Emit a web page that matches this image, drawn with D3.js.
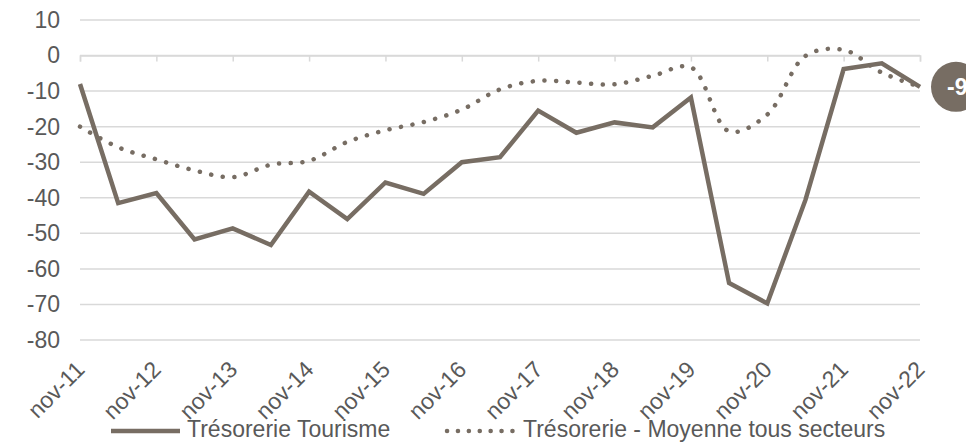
<!DOCTYPE html>
<html>
<head>
<meta charset="utf-8">
<script src="https://cdn.jsdelivr.net/npm/d3@7"></script>
<style>
	body { margin: 0; background: #fff; }
	svg { display: block; font-family: 'Liberation Sans', Arial, sans-serif; }
</style>
</head>
<body>
<div id="chart"></div>
<script>
// half-yearly periods, nov-11 .. nov-22
var periods = [ '2011-11', '2012-05', '2012-11', '2013-05', '2013-11', '2014-05', '2014-11', '2015-05', '2015-11',
	'2016-05', '2016-11', '2017-05', '2017-11', '2018-05', '2018-11', '2019-05', '2019-11', '2020-05', '2020-11',
	'2021-05', '2021-11', '2022-05', '2022-11' ];

var tickLabels = [ 'nov-11', 'nov-12', 'nov-13', 'nov-14', 'nov-15', 'nov-16', 'nov-17', 'nov-18', 'nov-19', 'nov-20',
	'nov-21', 'nov-22' ];

var tourisme = [ -8, -41.5, -38.7, -51.7, -48.6, -53.3, -38.3, -46, -35.7, -38.9, -30, -28.6, -15.5, -21.7, -18.8,
	-20.2, -11.8, -64, -69.7, -40.6, -3.8, -2.2, -8.8 ];

var moyenne = [ -20, -25.8, -29.2, -32.3, -34.2, -30.7, -29.6, -24.3, -21, -18.7, -15.2, -9.5, -7.1, -7.6, -8.1, -5.7,
	-3.3, -21.3, -16.6, -0.1, 1.6, -4.8, -8.8 ];

var yTicks = [ 10, 0, -10, -20, -30, -40, -50, -60, -70, -80 ];

var seriesNames = [ 'Trésorerie Tourisme', 'Trésorerie - Moyenne tous secteurs' ];

var w = 966,
	h = 442;
var margin = { top: 20, right: 46, bottom: 102, left: 80 },
	width = w - margin.left - margin.right,
	height = h - margin.top - margin.bottom;

var brown = '#776d63',
	grid = '#d9d9d9',
	textCol = '#595959',
	fontSize = '23px';

var svg = d3.select('#chart').append('svg').attr('width', w).attr('height', h);
var g = svg.append('g').attr('transform', 'translate(' + margin.left + ',' + margin.top + ')');

var xScale = d3.scalePoint().domain(periods).range([ 0, width ]);
var yScale = d3.scaleLinear().domain([ 10, -80 ]).range([ 0, height ]);

// gridlines
g
	.selectAll('.grid')
	.data(yTicks)
	.enter()
	.append('line')
	.attr('class', 'grid')
	.attr('x1', 0)
	.attr('x2', width)
	.attr('y1', function(d) {
		return yScale(d);
	})
	.attr('y2', function(d) {
		return yScale(d);
	})
	.attr('stroke', grid)
	.attr('stroke-width', 1.5);

// y axis labels (plain hyphen minus like the original)
var yAxis = d3
	.axisLeft(yScale)
	.tickValues(yTicks)
	.tickSize(0)
	.tickPadding(20)
	.tickFormat(function(d) {
		return String(d);
	});
g.append('g').call(yAxis).call(function(a) {
	a.select('.domain').remove();
	a.selectAll('text').attr('fill', textCol).style('font-size', fontSize);
});

// x axis sitting on the zero line, ticks pointing down
var novPeriods = periods.filter(function(d, i) {
	return i % 2 == 0;
});
var xAxis = d3
	.axisBottom(xScale)
	.tickValues(novPeriods)
	.tickSize(6)
	.tickFormat(function(d, i) {
		return tickLabels[i];
	});
var xg = g.append('g').attr('transform', 'translate(0,' + yScale(0) + ')').call(xAxis);
xg.selectAll('.domain').attr('stroke', grid).attr('stroke-width', 1.5);
xg.selectAll('.tick line').attr('stroke', grid).attr('stroke-width', 1.5);
xg.selectAll('text').remove();

// rotated tick labels under the plot
g
	.selectAll('.xlab')
	.data(novPeriods)
	.enter()
	.append('text')
	.attr('class', 'xlab')
	.attr('transform', function(d) {
		return 'translate(' + (xScale(d) + 6) + ',' + (height + 31) + ') rotate(-45)';
	})
	.attr('text-anchor', 'end')
	.attr('fill', textCol)
	.style('font-size', fontSize)
	.text(function(d, i) {
		return tickLabels[i];
	});

// lines
var lineSolid = d3
	.line()
	.x(function(d, i) {
		return xScale(periods[i]);
	})
	.y(function(d) {
		return yScale(d);
	});

var lineSmooth = d3
	.line()
	.curve(d3.curveCatmullRom)
	.x(function(d, i) {
		return xScale(periods[i]);
	})
	.y(function(d) {
		return yScale(d);
	});

g
	.append('path')
	.datum(moyenne)
	.attr('d', lineSmooth)
	.attr('fill', 'none')
	.attr('stroke', brown)
	.attr('stroke-width', 4.5)
	.attr('stroke-linecap', 'round')
	.attr('stroke-dasharray', '0.1 11.6');

g
	.append('path')
	.datum(tourisme)
	.attr('d', lineSolid)
	.attr('fill', 'none')
	.attr('stroke', brown)
	.attr('stroke-width', 4.5)
	.attr('stroke-linejoin', 'miter');

// last value badge
var last = tourisme[tourisme.length - 1];
var badge = g.append('g').attr('transform', 'translate(' + (width + 36) + ',' + yScale(last) + ')');
badge.append('circle').attr('r', 25).attr('fill', brown);
badge
	.append('text')
	.attr('x', -9)
	.attr('dy', '0.35em')
	.attr('fill', '#fff')
	.style('font-size', fontSize)
	.style('font-weight', 'bold')
	.text(Math.round(last));

// legend
var legend = svg.append('g').attr('transform', 'translate(0,431)');
legend
	.append('line')
	.attr('x1', 111)
	.attr('x2', 180)
	.attr('stroke', brown)
	.attr('stroke-width', 4.5);
legend
	.append('text')
	.attr('x', 187)
	.attr('y', 6)
	.attr('fill', textCol)
	.style('font-size', fontSize)
	.text(seriesNames[0]);
legend
	.append('line')
	.attr('x1', 447)
	.attr('x2', 513)
	.attr('stroke', brown)
	.attr('stroke-width', 4.5)
	.attr('stroke-linecap', 'round')
	.attr('stroke-dasharray', '0.1 10.8');
legend
	.append('text')
	.attr('x', 523)
	.attr('y', 6)
	.attr('fill', textCol)
	.style('font-size', fontSize)
	.text(seriesNames[1]);
</script>
</body>
</html>
